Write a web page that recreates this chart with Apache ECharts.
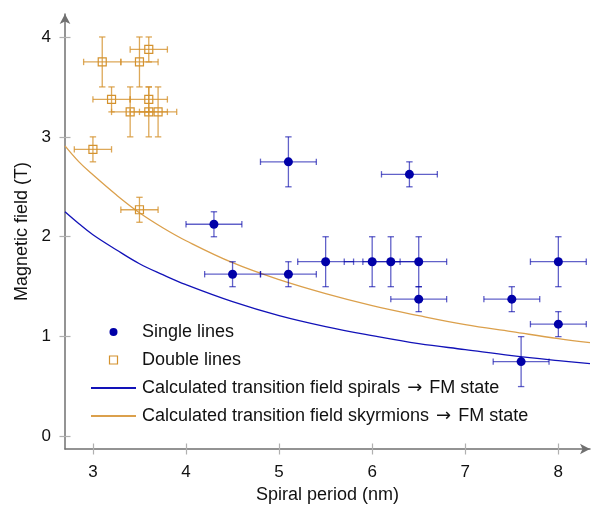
<!DOCTYPE html>
<html>
<head>
<meta charset="utf-8">
<script src="https://cdn.jsdelivr.net/npm/echarts@6/dist/echarts.min.js"></script>
<style>html,body{margin:0;padding:0;background:#fff}#c{width:601px;height:506px}</style>
</head>
<body>
<div id="c"></div>
<script>
// ---- data ----
const xTicks = [3, 4, 5, 6, 7, 8];
const yTicks = [0, 1, 2, 3, 4];

const singleX    = [4.3, 4.5, 5.1, 5.1, 5.5, 6.0, 6.2, 6.5, 6.5, 6.4, 7.5, 7.6, 8.0, 8.0];
const singleY    = [2.125, 1.625, 1.625, 2.75, 1.75, 1.75, 1.75, 1.75, 1.375, 2.625, 1.375, 0.75, 1.75, 1.125];
const singleXErr = [0.3, 0.3, 0.3, 0.3, 0.3, 0.3, 0.3, 0.3, 0.3, 0.3, 0.3, 0.3, 0.3, 0.3];
const singleYErr = [0.125, 0.125, 0.125, 0.25, 0.25, 0.25, 0.25, 0.25, 0.125, 0.125, 0.125, 0.25, 0.25, 0.125];

const doubleX    = [3.1, 3.5, 3.6, 3.2, 3.6, 3.4, 3.6, 3.7, 3.0, 3.5];
const doubleY    = [3.75, 3.75, 3.875, 3.375, 3.375, 3.25, 3.25, 3.25, 2.875, 2.27];
const doubleXErr = [0.2, 0.2, 0.2, 0.2, 0.2, 0.2, 0.2, 0.2, 0.2, 0.2];
const doubleYErr = [0.25, 0.25, 0.125, 0.125, 0.125, 0.25, 0.25, 0.25, 0.125, 0.125];

const curveX      = [2.7, 2.85, 3.0, 3.25, 3.5, 3.75, 4.0, 4.5, 5.0, 5.5, 6.0, 6.5, 7.0, 7.5, 8.0, 8.34];
const spiralY     = [2.25, 2.13, 2.02, 1.87, 1.73, 1.62, 1.52, 1.35, 1.21, 1.10, 1.01, 0.93, 0.87, 0.81, 0.76, 0.73];
const skyrmionY   = [2.91, 2.75, 2.62, 2.42, 2.24, 2.09, 1.96, 1.74, 1.57, 1.43, 1.31, 1.21, 1.12, 1.05, 0.98, 0.94];

const names = ['Single lines', 'Double lines',
  'Calculated transition field spirals \u2192 FM state',
  'Calculated transition field skyrmions \u2192 FM state'];

// ---- styling ----
const FONT = 'Liberation Sans, Arial, Helvetica, sans-serif';
const BLUE = '#0000a8';
const BLUE_ERR = 'rgba(0,0,168,0.62)';
const BLUE_LINE = '#1212b8';
const ORANGE = '#d4922e';
const ORANGE_ERR = 'rgba(212,146,46,0.8)';
const ORANGE_LINE = '#dba04c';
const AXIS = '#707070';
const TICK = '#b0b0b0';
const CLEAR = 'rgba(0,0,0,0)';

const XMIN = 2.7, XMAX = 8.34, YMIN = -0.125, YMAX = 4.23;

function zip(a, b) { return a.map((v, i) => [v, b[i]]); }
function errData(x, y, ex, ey) { return x.map((v, i) => [v, y[i], ex[i], ey[i]]); }

function errRender(color) {
  return function (params, api) {
    const x = api.value(0), y = api.value(1), dx = api.value(2), dy = api.value(3);
    const l = api.coord([x - dx, y]), r = api.coord([x + dx, y]);
    const t = api.coord([x, y + dy]), b = api.coord([x, y - dy]);
    const cap = 3.2;
    const st = { stroke: color, lineWidth: 1.3, fill: null };
    const ln = (x1, y1, x2, y2) => ({ type: 'line', shape: { x1, y1, x2, y2 }, style: st });
    return {
      type: 'group',
      children: [
        ln(l[0], l[1], r[0], r[1]),
        ln(l[0], l[1] - cap, l[0], l[1] + cap),
        ln(r[0], r[1] - cap, r[0], r[1] + cap),
        ln(t[0], t[1], b[0], b[1]),
        ln(t[0] - cap, t[1], t[0] + cap, t[1]),
        ln(b[0] - cap, b[1], b[0] + cap, b[1])
      ]
    };
  };
}

const chart = echarts.init(document.getElementById('c'), null, { renderer: 'canvas' });

const baseX = {
  type: 'value', min: XMIN, max: XMAX, position: 'bottom', gridIndex: 0,
  splitLine: { show: false }
};
const baseY = {
  type: 'value', min: YMIN, max: YMAX, position: 'left', gridIndex: 0,
  splitLine: { show: false }
};

chart.setOption({
  animation: false,
  backgroundColor: '#fff',
  textStyle: { fontFamily: FONT },
  grid: { left: 65, right: 11, top: 14, bottom: 57, containLabel: false, outerBoundsMode: 'none' },
  xAxis: [
    Object.assign({}, baseX, {
      name: 'Spiral period (nm)', nameLocation: 'middle', nameGap: 36,
      nameTextStyle: { fontSize: 18, color: '#111', fontFamily: FONT },
      axisLine: { show: true, onZero: false, lineStyle: { color: AXIS, width: 1.5 }, symbol: ['none', 'arrow'], symbolSize: [8, 10] },
      axisTick: { show: true, inside: false, length: 5.5, lineStyle: { color: TICK, width: 1.2 }, customValues: xTicks },
      axisLabel: { show: true, margin: 15, fontSize: 17, color: '#111', fontFamily: FONT, customValues: xTicks }
    }),
    Object.assign({}, baseX, {
      axisLine: { show: false, onZero: false },
      axisTick: { show: true, inside: true, length: 5.5, lineStyle: { color: TICK, width: 1.2 }, customValues: xTicks },
      axisLabel: { show: false }
    })
  ],
  yAxis: [
    Object.assign({}, baseY, {
      name: 'Magnetic field (T)', nameLocation: 'middle', nameGap: 27, nameRotate: 90,
      nameTextStyle: { fontSize: 18, color: '#111', fontFamily: FONT },
      axisLine: { show: true, onZero: false, lineStyle: { color: AXIS, width: 1.5 }, symbol: ['none', 'arrow'], symbolSize: [8, 10] },
      axisTick: { show: true, inside: false, length: 5.5, lineStyle: { color: TICK, width: 1.2 }, customValues: yTicks },
      axisLabel: { show: true, margin: 14, fontSize: 17, color: '#111', fontFamily: FONT, customValues: yTicks }
    }),
    Object.assign({}, baseY, {
      axisLine: { show: false, onZero: false },
      axisTick: { show: true, inside: true, length: 5.5, lineStyle: { color: TICK, width: 1.2 }, customValues: yTicks },
      axisLabel: { show: false }
    })
  ],
  legend: {
    left: 85, top: 318, orient: 'vertical',
    itemWidth: 45, itemHeight: 8, itemGap: 10,
    formatter: function (n) { return n.replace('\u2192', '{ar|\u2192}'); },
    textStyle: {
      fontSize: 18, color: '#111', fontFamily: FONT, padding: [0, 0, 0, 1],
      rich: { ar: { fontSize: 18, fontFamily: 'DejaVu Sans', color: '#111', padding: [0, 2, 0, 2] } }
    },
    data: [
      { name: names[0], icon: 'circle' },
      { name: names[1], icon: 'path://M0,0H10V10H0Z', itemStyle: { color: '#fff', borderColor: ORANGE, borderWidth: 1.2 } },
      { name: names[2], itemStyle: { color: CLEAR, borderColor: CLEAR, borderWidth: 0 } },
      { name: names[3], itemStyle: { color: CLEAR, borderColor: CLEAR, borderWidth: 0 } }
    ]
  },
  series: [
    {
      type: 'line', name: names[2], data: zip(curveX, spiralY), smooth: 0.4,
      showSymbol: false, symbol: 'none', lineStyle: { color: BLUE_LINE, width: 1.3 },
      itemStyle: { color: BLUE_LINE }, z: 1
    },
    {
      type: 'line', name: names[3], data: zip(curveX, skyrmionY), smooth: 0.4,
      showSymbol: false, symbol: 'none', lineStyle: { color: ORANGE_LINE, width: 1.3 },
      itemStyle: { color: ORANGE_LINE }, z: 1
    },
    {
      type: 'custom', name: 'single-err', renderItem: errRender(BLUE_ERR),
      data: errData(singleX, singleY, singleXErr, singleYErr), encode: { x: 0, y: 1 }, z: 2, silent: true
    },
    {
      type: 'custom', name: 'double-err', renderItem: errRender(ORANGE_ERR),
      data: errData(doubleX, doubleY, doubleXErr, doubleYErr), encode: { x: 0, y: 1 }, z: 2, silent: true
    },
    {
      type: 'scatter', name: names[0], data: zip(singleX, singleY), symbol: 'circle', symbolSize: 9,
      itemStyle: { color: BLUE, opacity: 1 }, z: 3
    },
    {
      type: 'scatter', name: names[1], data: zip(doubleX, doubleY), symbol: 'rect', symbolSize: 8,
      itemStyle: { color: 'rgba(255,255,255,0)', borderColor: ORANGE, borderWidth: 1.2, opacity: 1 }, z: 3
    }
  ]
});
</script>
</body>
</html>
